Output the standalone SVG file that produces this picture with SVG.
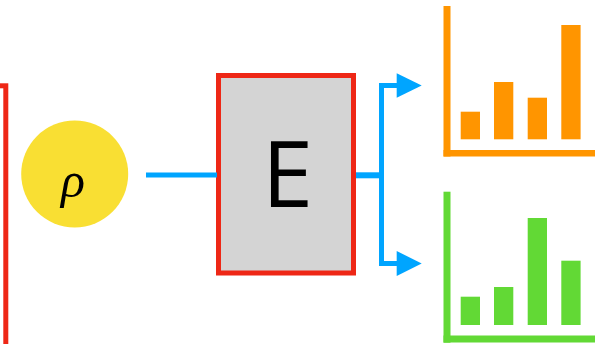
<svg xmlns="http://www.w3.org/2000/svg" width="599" height="344" viewBox="0 0 599 344">
  <style>
    .box { stroke: #EE2716; stroke-width: 5; }
    .wire { stroke: #00A5FF; fill: none; }
    .orange { fill: #FF9500; }
    .green { fill: #62D935; }
  </style>
  <rect width="599" height="344" fill="#FFFFFF"/>
  <g id="left-box">
    <rect class="box" x="-100" y="85.8" width="105.8" height="300" fill="none"/>
  </g>
  <g id="rho">
    <circle cx="74.7" cy="174" r="53.5" fill="#F9DF33"/>
    <text x="73" y="197" font-family="'Liberation Serif', serif" font-style="italic" font-size="50" text-anchor="middle" fill="#000000">ρ</text>
  </g>
  <g id="E">
    <rect class="box" x="218.5" y="75.5" width="135" height="197.5" fill="#D4D4D4"/>
    <text x="287.5" y="206.7" font-family="'Open Sans', sans-serif" font-size="92" text-anchor="middle" fill="#000000">E</text>
  </g>
  <g id="chart-orange">
    <rect class="orange" x="443.5" y="6" width="7" height="150.5"/>
    <rect class="orange" x="443.5" y="150" width="151.5" height="6.5"/>
    <rect class="orange" x="460.7" y="111.7" width="19.3" height="27.6"/>
    <rect class="orange" x="494" y="82" width="19.3" height="57.3"/>
    <rect class="orange" x="527.7" y="97.7" width="19.3" height="41.6"/>
    <rect class="orange" x="561.3" y="25" width="19.3" height="114.3"/>
  </g>
  <g id="chart-green">
    <rect class="green" x="443.5" y="191.7" width="7" height="151"/>
    <rect class="green" x="443.5" y="335.5" width="151.5" height="7"/>
    <rect class="green" x="460.7" y="296.7" width="19.3" height="28.3"/>
    <rect class="green" x="494" y="287" width="19.3" height="38"/>
    <rect class="green" x="527.7" y="218" width="19.3" height="107"/>
    <rect class="green" x="561.3" y="260.7" width="19.3" height="64.3"/>
  </g>
  <g id="connectors">
    <line class="wire" x1="146" y1="175" x2="217" y2="175" stroke-width="5"/>
    <line class="wire" x1="356" y1="175.3" x2="384" y2="175.3" stroke-width="6"/>
    <polyline class="wire" points="398,85.5 381.5,85.5 381.5,263.5 398,263.5" stroke-width="5"/>
    <polygon points="396.7,73.3 421.7,85.5 396.7,97.7" fill="#00A5FF"/>
    <polygon points="396.7,251 421.7,263.5 396.7,276" fill="#00A5FF"/>
  </g>
</svg>
